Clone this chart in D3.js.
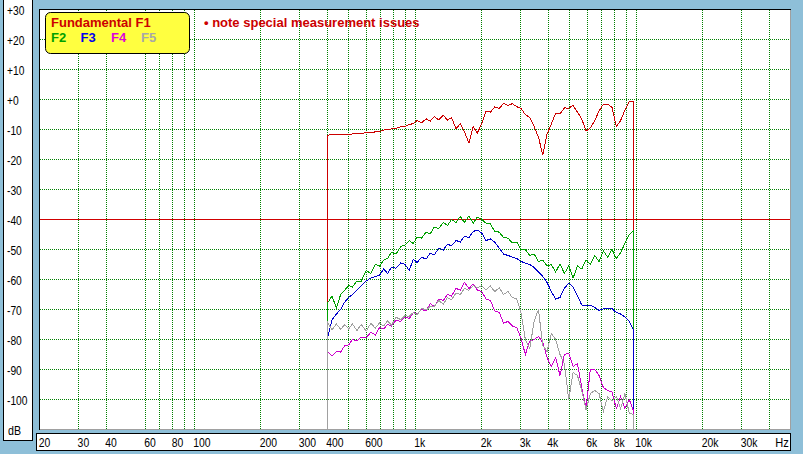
<!DOCTYPE html>
<html>
<head>
<meta charset="utf-8">
<script src="https://cdnjs.cloudflare.com/ajax/libs/d3/7.8.5/d3.min.js"></script>
<style>
  html, body { margin: 0; padding: 0; background: #8ebfd8; }
  svg { display: block; }
  .lbl { font-family: 'Liberation Sans', Arial, sans-serif; fill: #000; }
  .bold { font-family: 'Liberation Sans', Arial, sans-serif; font-weight: bold; font-size: 13px; }
</style>
</head>
<body>
<div id="root"></div>
<script>
// measured frequencies (Hz)
const freqs = [400, 420, 440, 460, 480, 500, 520, 545, 570, 600, 630, 660,
    690, 720, 750, 780, 820, 860, 900, 940, 980, 1020, 1070, 1120,
    1170, 1220, 1280, 1340, 1400, 1460, 1530, 1600, 1670, 1750, 1830, 1910,
    2000, 2090, 2190, 2290, 2400, 2510, 2630, 2750, 2880, 3010, 3150, 3300,
    3450, 3610, 3780, 3950, 4130, 4320, 4520, 4730, 4950, 5180, 5420, 5670,
    5930, 6200, 6490, 6790, 7100, 7430, 7770, 8130, 8500, 8890, 9300, 9750];

// levels in dB
const f1 = [-11.9, -11.7, -11.7, -11.7, -11.7, -11.6, -11.5, -11.3, -11.4, -11.0, -11.0, -10.8,
    -10.6, -10.2, -10.0, -9.8, -9.6, -9.1, -8.9, -8.4, -8.0, -7.0, -7.8, -6.4,
    -7.2, -5.7, -6.8, -5.2, -6.9, -6.0, -9.8, -8.0, -10.8, -14.5, -9.0, -11.2,
    -8.0, -4.0, -4.2, -2.5, -3.0, -1.3, -2.0, -1.4, -2.4, -3.0, -5.0, -6.0,
    -9.0, -12.5, -18.5, -11.5, -8.2, -4.6, -4.8, -2.8, -2.9, -2.0, -4.2, -6.5,
    -10.5, -9.5, -7.0, -3.8, -1.6, -1.5, -2.6, -9.0, -7.0, -3.5, -0.7, -0.8];
const f2 = [-68, -65.5, -69.5, -65, -63.5, -62, -62.5, -60.5, -60.5, -57, -58, -55,
    -55.5, -53.5, -53, -51, -51.5, -49, -48.5, -47, -48, -46, -46.2, -44.2,
    -44.8, -42.5, -43, -41, -42, -40, -41, -39, -41, -38.8, -41.2, -39.2,
    -40, -41.2, -41.5, -44, -44.2, -46, -46.2, -47.8, -47.5, -50, -50, -52,
    -51.5, -54, -53.5, -55.5, -55, -57.5, -54.8, -58, -55.5, -59.5, -55.5, -56.5,
    -53.5, -55, -52, -54, -50.5, -52.5, -50, -53, -51, -48, -45, -43.5];
const f3 = [-80, -73.5, -71.5, -70, -67.5, -66, -65, -63.5, -62, -60.5, -59.5, -59,
    -58.5, -56.5, -58, -56, -56.2, -54.5, -55, -57, -53.2, -54.3, -52.6, -53.2,
    -51.2, -51.8, -49.5, -50.2, -48.2, -48.8, -47, -47.5, -45.6, -46, -44, -43.5,
    -44.5, -47, -46.5, -47.5, -49.5, -51.5, -52, -52.5, -53, -54, -54.5, -55,
    -56, -57.5, -59, -61, -64, -66.5, -66, -63, -61.2, -62.5, -65.5, -68.5,
    -68.8, -68.6, -69.3, -70.3, -69.8, -69.5, -69.7, -71, -71.5, -72.5, -74, -77];
const f4 = [-84, -85.5, -84, -84.2, -82, -81.8, -80, -80.5, -79.2, -79.5, -77.5, -78.5,
    -76, -76.5, -75, -75.5, -73.5, -74, -72.5, -73, -71, -71.5, -70, -70.5,
    -68, -69, -66.5, -67, -65, -65.5, -63, -63.5, -61, -63, -61.5, -63.5,
    -64, -66.5, -67, -70.5, -71, -74.5, -74, -75.5, -76, -79.5, -85, -80.5,
    -80, -79, -81, -86, -89, -86, -92, -85, -84.5, -89, -88, -96,
    -103, -90, -90, -92, -96, -97, -97.5, -103, -99, -103, -100, -104];
const f5 = [-74, -76.8, -74.8, -76.6, -75, -76.5, -74.8, -77, -75, -77.2, -74.6, -76.2,
    -74.5, -75.5, -73.8, -75.2, -72.6, -73.4, -72, -72.3, -71, -71.8, -69.6, -70.2,
    -69, -69, -67, -68.3, -66, -66.8, -64.5, -65, -63, -63.6, -62, -62.8,
    -62, -63.4, -62.2, -64, -62.8, -65, -64, -66, -66.5, -71, -80, -83,
    -74, -70, -82, -84, -78, -80, -85, -88, -100, -91, -92, -97,
    -103.5, -98, -97, -98, -104, -99, -100.5, -99, -103, -98, -104.5, -105];

const seriesNames = ['F1', 'F2', 'F3', 'F4', 'F5'];
const seriesColors = ['#cc0000', '#00a000', '#0000cc', '#cc00cc', '#a0a0a0'];
const legendColors = ['#cc0000', '#00a000', '#0000ee', '#dd00dd', '#a8a8a8'];
const seriesValues = [f1, f2, f3, f4, f5];

const dbTicks = [30, 20, 10, 0, -10, -20, -30, -40, -50, -60, -70, -80, -90, -100];
const dbGrid = [20, 10, 0, -10, -20, -30, -50, -60, -70, -80, -90, -100];
const refLevel = -40;
const gridFreqs = [30, 40, 60, 70, 80, 90, 100, 200, 300, 400, 500, 600, 700, 800, 900,
    1000, 2000, 3000, 4000, 5000, 6000, 7000, 8000, 9000, 10000, 20000, 30000, 40000];
const labelFreqs = [20, 30, 40, 60, 80, 100, 200, 300, 400, 600, 1000, 2000, 3000, 4000, 6000, 8000, 10000, 20000, 30000];
const labelText = ['20', '30', '40', '60', '80', '100', '200', '300', '400', '600', '1k', '2k', '3k', '4k', '6k', '8k', '10k', '20k', '30k'];

const width = 803, height = 454;
const plot = { left: 39, top: 9, right: 791, bottom: 430 };

const svg = d3.select('#root')
    .append('svg')
    .attr('width', width)
    .attr('height', height);

svg.append('rect')
    .attr('width', width)
    .attr('height', height)
    .attr('fill', '#8ebfd8');

const x = d3.scaleLog().domain([20, 50000]).range([39.7, 790.7]);
const y = d3.scaleLinear().domain([-110, 30]).range([429.5, 9.5]);
const px = v => Math.floor(v);

// left dB panel
svg.append('rect')
    .attr('x', 3.5).attr('y', -0.5)
    .attr('width', 29).attr('height', 441)
    .attr('fill', '#fff').attr('stroke', '#000');

svg.selectAll('.ylab')
    .data(dbTicks)
    .enter()
    .append('text')
    .attr('class', 'lbl ylab')
    .attr('font-size', 12.5)
    .attr('transform', d => `translate(7, ${y(d) + 5.5}) scale(0.82, 1)`)
    .text(d => d >= 0 ? '+' + d : d);

svg.append('text')
    .attr('class', 'lbl')
    .attr('font-size', 12.5)
    .attr('transform', 'translate(8, 435) scale(0.85, 1)')
    .text('dB');

// plot area
svg.append('rect')
    .attr('x', plot.left).attr('y', plot.top)
    .attr('width', plot.right - plot.left).attr('height', plot.bottom - plot.top)
    .attr('fill', '#fff');

// dotted grid, one pixel on, one off
const dotsV = c => d3.range(plot.top + 1, plot.bottom - 1, 2).map(r => `M${c},${r}h1v1h-1z`).join('');
const dotsH = r => d3.range(plot.left + 1, plot.right - 1, 2).map(c => `M${c},${r}h1v1h-1z`).join('');

const grid = svg.append('g')
    .attr('fill', '#008000')
    .attr('shape-rendering', 'crispEdges');

grid.selectAll('.vg')
    .data(gridFreqs)
    .enter()
    .append('path')
    .attr('d', d => dotsV(px(x(d))));

grid.selectAll('.hg')
    .data(dbGrid)
    .enter()
    .append('path')
    .attr('d', d => dotsH(px(y(d))));

svg.append('rect')
    .attr('x', plot.left + 1)
    .attr('y', px(y(refLevel)))
    .attr('width', plot.right - plot.left - 2)
    .attr('height', 1)
    .attr('fill', '#d00000')
    .attr('shape-rendering', 'crispEdges');

// curves
svg.append('clipPath')
    .attr('id', 'clip')
    .append('rect')
    .attr('x', plot.left + 1).attr('y', plot.top + 1)
    .attr('width', plot.right - plot.left - 2).attr('height', plot.bottom - plot.top - 1);

const line = d3.line()
    .x(d => x(d[0]))
    .y(d => y(d[1]));

const floor = y.domain()[0];
const curves = seriesValues.map(vals => {
    const pts = freqs.map((f, j) => [f, vals[j]]);
    return [[freqs[0], floor]].concat(pts, [[freqs[freqs.length - 1], floor]]);
});

svg.append('g')
    .attr('clip-path', 'url(#clip)')
    .selectAll('path')
    .data(curves)
    .enter()
    .append('path')
    .attr('d', line)
    .attr('fill', 'none')
    .attr('stroke', (d, i) => seriesColors[i])
    .attr('stroke-width', 1)
    .attr('shape-rendering', 'crispEdges');

// plot frame
const frame = svg.append('g').attr('shape-rendering', 'crispEdges');
frame.append('line').attr('x1', 39.5).attr('x2', 39.5).attr('y1', 9).attr('y2', 430).attr('stroke', '#000');
frame.append('line').attr('x1', 39).attr('x2', 791).attr('y1', 9.5).attr('y2', 9.5).attr('stroke', '#000');
frame.append('line').attr('x1', 790.5).attr('x2', 790.5).attr('y1', 10).attr('y2', 430).attr('stroke', '#a0a0a0');
frame.append('line').attr('x1', 40).attr('x2', 791).attr('y1', 429.5).attr('y2', 429.5).attr('stroke', '#a0a0a0');

// frequency label box
svg.append('rect')
    .attr('x', 36.5).attr('y', 433.5)
    .attr('width', 754).attr('height', 17)
    .attr('fill', '#fff').attr('stroke', '#000');

svg.selectAll('.xlab')
    .data(labelFreqs)
    .enter()
    .append('text')
    .attr('class', 'lbl xlab')
    .attr('font-size', 13)
    .attr('transform', d => `translate(${Math.max(38, x(d) - 1)}, 447) scale(0.8, 1)`)
    .text((d, i) => labelText[i]);

svg.append('text')
    .attr('class', 'lbl')
    .attr('font-size', 13)
    .attr('transform', `translate(${x(40000) + 6}, 447) scale(0.85, 1)`)
    .text('Hz');

// legend
svg.append('rect')
    .attr('x', 45.5).attr('y', 12.5)
    .attr('width', 144).attr('height', 41)
    .attr('rx', 5)
    .attr('fill', '#ffff40').attr('stroke', '#000');

svg.append('text')
    .attr('class', 'bold')
    .attr('x', 51).attr('y', 27)
    .attr('fill', legendColors[0])
    .text('Fundamental F1');

const legendX = [51, 80.5, 111, 141];
svg.selectAll('.leg')
    .data(seriesNames.slice(1))
    .enter()
    .append('text')
    .attr('class', 'bold leg')
    .attr('x', (d, i) => legendX[i])
    .attr('y', 42)
    .attr('fill', (d, i) => legendColors[i + 1])
    .text(d => d);

svg.append('text')
    .attr('class', 'bold')
    .attr('x', 204).attr('y', 27)
    .attr('fill', '#cc0000')
    .text('\u2022 note special measurement issues');
</script>
</body>
</html>
